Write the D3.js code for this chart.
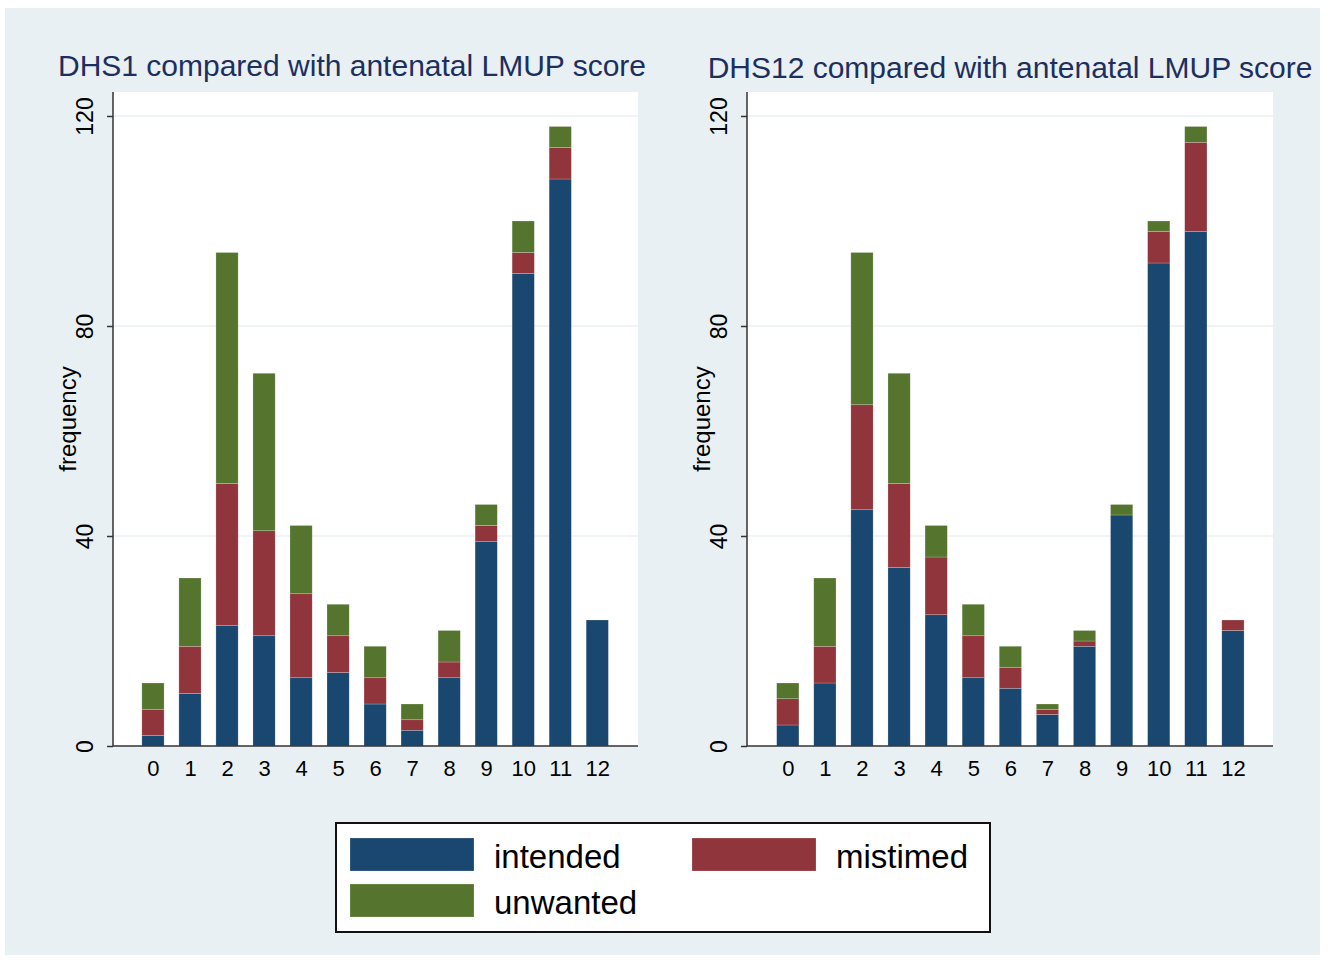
<!DOCTYPE html>
<html>
<head>
<meta charset="utf-8">
<script src="https://cdn.jsdelivr.net/npm/d3@7"></script>
<style>
  html, body { margin: 0; padding: 0; background: #ffffff; }
  svg text { font-family: "Liberation Sans", Arial, Helvetica, sans-serif; }
</style>
</head>
<body>
<svg id="chart" width="1332" height="960"></svg>
<script>
// ---- data ----
const categories = [0, 1, 2, 3, 4, 5, 6, 7, 8, 9, 10, 11, 12];
const seriesNames = ["intended", "mistimed", "unwanted"];
const seriesColors = ["#1a476f", "#90353b", "#55752f"];

const dhs1Intended = [2, 10, 23, 21, 13, 14, 8, 3, 13, 39, 90, 108, 24];
const dhs1Mistimed = [5, 9, 27, 20, 16, 7, 5, 2, 3, 3, 4, 6, 0];
const dhs1Unwanted = [5, 13, 44, 30, 13, 6, 6, 3, 6, 4, 6, 4, 0];

const dhs12Intended = [4, 12, 45, 34, 25, 13, 11, 6, 19, 44, 92, 98, 22];
const dhs12Mistimed = [5, 7, 20, 16, 11, 8, 4, 1, 1, 0, 6, 17, 2];
const dhs12Unwanted = [3, 13, 29, 21, 6, 6, 4, 1, 2, 2, 2, 3, 0];

const yTicks = [0, 40, 80, 120];
const gridTicks = [40, 80, 120];
const titles = ["DHS1 compared with antenatal LMUP score", "DHS12 compared with antenatal LMUP score"];
const yLabel = "frequency";

// ---- drawing ----
const svg = d3.select("#chart");
svg.append("rect").attr("x", 0).attr("y", 0).attr("width", 1332).attr("height", 960).attr("fill", "#ffffff");
svg.append("rect").attr("x", 5).attr("y", 8).attr("width", 1315).attr("height", 947).attr("fill", "#e9f0f3");

const panels = [
  { title: titles[0], titleX: 352, titleY: 76, left: 113, right: 638, top: 92, bottom: 746,
    dMin: -1.08, dMax: 13.1,
    data: [dhs1Intended, dhs1Mistimed, dhs1Unwanted] },
  { title: titles[1], titleX: 1010, titleY: 78, left: 747, right: 1273, top: 92, bottom: 746,
    dMin: -1.1, dMax: 13.08,
    data: [dhs12Intended, dhs12Mistimed, dhs12Unwanted] }
];

panels.forEach(p => {
  const g = svg.append("g");
  const x = d3.scaleLinear().domain([p.dMin, p.dMax]).range([p.left, p.right]);
  const y = d3.scaleLinear().domain([0, 120]).range([p.bottom, p.bottom - 630]);
  const barW = 0.6;

  // plot region
  g.append("rect").attr("x", p.left).attr("y", p.top)
    .attr("width", p.right - p.left).attr("height", p.bottom - p.top).attr("fill", "#ffffff");

  // grid
  g.selectAll("line.grid").data(gridTicks).join("line")
    .attr("class", "grid")
    .attr("x1", p.left).attr("x2", p.right)
    .attr("y1", d => y(d)).attr("y2", d => y(d))
    .attr("stroke", "#eaf2f3").attr("stroke-width", 1.5);

  // stacked bars
  const rows = categories.map((c, i) => {
    const r = { cat: c };
    seriesNames.forEach((s, k) => r[s] = p.data[k][i]);
    return r;
  });
  const stacked = d3.stack().keys(seriesNames)(rows);
  stacked.forEach((layer, k) => {
    g.append("g").selectAll("rect").data(layer).join("rect")
      .attr("x", d => x(d.data.cat - barW / 2))
      .attr("width", d => x(d.data.cat + barW / 2) - x(d.data.cat - barW / 2))
      .attr("y", d => y(d[1]))
      .attr("height", d => Math.max(0, y(d[0]) - y(d[1])))
      .attr("fill", seriesColors[k])
      .attr("stroke", d => (d[1] - d[0]) > 0 ? "rgba(255,255,255,0.35)" : "none")
      .attr("stroke-width", 0.6);
  });

  // y axis
  const yAxis = d3.axisLeft(y).tickValues(yTicks).tickSize(6).tickFormat(d3.format("d"));
  const ya = g.append("g").attr("transform", `translate(${p.left},0)`).call(yAxis);
  ya.select(".domain").attr("stroke", "#333333").attr("stroke-width", 1.5)
    .attr("d", `M0,${p.top}V${p.bottom}`);
  ya.selectAll(".tick line").attr("stroke", "#333333").attr("stroke-width", 1.5);
  ya.selectAll(".tick text")
    .attr("font-size", 23).attr("fill", "#000000")
    .attr("x", 0).attr("dy", 0)
    .attr("text-anchor", "middle")
    .attr("transform", "translate(-20,0) rotate(-90)")
    .attr("y", 0);

  // x axis
  const xAxis = d3.axisBottom(x).tickValues(categories).tickSize(0).tickFormat(d3.format("d"));
  const xa = g.append("g").attr("transform", `translate(0,${p.bottom})`).call(xAxis);
  xa.select(".domain").attr("stroke", "#333333").attr("stroke-width", 1.5)
    .attr("d", `M${p.left},0H${p.right}`);
  xa.selectAll(".tick text").attr("font-size", 22).attr("fill", "#000000").attr("dy", "0").attr("y", 30);

  // y label
  g.append("text")
    .attr("transform", `translate(${p.left - 37},${(p.top + p.bottom) / 2})) rotate(-90)`.replace("))", ")"))
    .attr("text-anchor", "middle")
    .attr("font-size", 24)
    .attr("fill", "#000000")
    .text(yLabel);

  // title
  g.append("text")
    .attr("x", p.titleX).attr("y", p.titleY)
    .attr("text-anchor", "middle")
    .attr("font-size", 30)
    .attr("fill", "#1c2f5e")
    .text(p.title);
});

// legend
const lg = svg.append("g");
lg.append("rect").attr("x", 336).attr("y", 823).attr("width", 654).attr("height", 109)
  .attr("fill", "#ffffff").attr("stroke", "#111111").attr("stroke-width", 2);
const legendPos = [
  { sx: 350, sy: 838, tx: 494, ty: 868 },
  { sx: 692, sy: 838, tx: 836, ty: 868 },
  { sx: 350, sy: 884, tx: 494, ty: 914 }
];
seriesNames.forEach((s, k) => {
  const lp = legendPos[k];
  lg.append("rect").attr("x", lp.sx).attr("y", lp.sy).attr("width", 124).attr("height", 33)
    .attr("fill", seriesColors[k]).attr("stroke", "rgba(255,255,255,0.35)").attr("stroke-width", 0.6);
  lg.append("text").attr("x", lp.tx).attr("y", lp.ty).attr("font-size", 33).attr("fill", "#000000").text(s);
});
</script>
</body>
</html>
